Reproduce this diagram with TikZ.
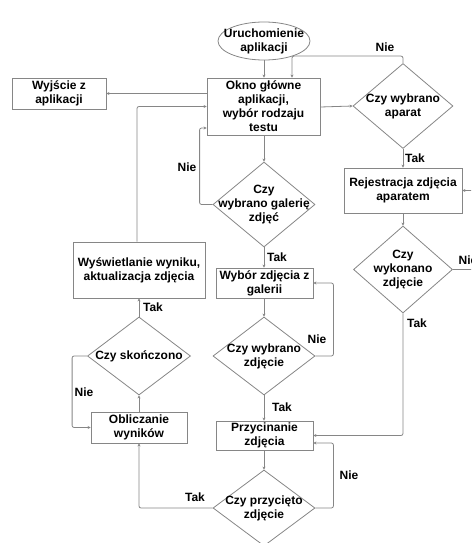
\documentclass[tikz,border=0pt]{standalone}
\usepackage{fontspec}
\setmainfont{Liberation Sans}
\usetikzlibrary{shapes.geometric, arrows.meta}

\begin{document}
\begin{tikzpicture}[x = 1pt, y = -1pt, font = \bfseries\fontsize{12}{14}\selectfont,
	line/.style = {draw = gray!95, line width = 0.8pt},
	arrow/.style = {line, rounded corners = 2pt, -{Stealth[length = 3pt, width = 3pt]}},
	box/.style = {rectangle, line, align = center, inner sep = 1pt},
	start/.style = {ellipse, line, inner sep = 0pt},
	decision/.style = {diamond, line, inner sep = 0pt},
	answer/.style = {inner sep = 0pt}]

	% Frame

	\useasboundingbox (0, 0) rectangle (471, 543);
	\clip (0, 0) rectangle (471, 543);

	% Nodes

	\node [start, minimum width = 92pt, minimum height = 38pt, label = {[align = center]center:Uruchomienie\\aplikacji}] (start) at (264, 41) {};
	\node [box, minimum width = 113pt, minimum height = 57pt] (main) at (263.5, 106.5) {Okno główne\\aplikacji,\\wybór rodzaju\\testu};
	\node [box, minimum width = 94pt, minimum height = 31pt] (exit) at (59, 93.5) {Wyjście z\\aplikacji};

	\node [decision, minimum width = 100pt, minimum height = 85pt, label = {[align = center]center:Czy wybrano\\aparat}] (camq) at (403, 106) {};
	\node [box, minimum width = 118pt, minimum height = 45pt] (camera) at (403, 190.5) {Rejestracja zdjęcia\\aparatem};
	\node [decision, minimum width = 99pt, minimum height = 87pt, label = {[align = center]center:Czy\\wykonano\\zdjęcie}] (shotq) at (403, 269.5) {};

	\node [decision, minimum width = 102pt, minimum height = 85pt, label = {[align = center]center:Czy\\wybrano galerię\\zdjęć}] (galq) at (264, 204.5) {};
	\node [box, minimum width = 97pt, minimum height = 30pt] (gallery) at (264.5, 283) {Wybór zdjęcia z\\galerii};
	\node [decision, minimum width = 102pt, minimum height = 78pt, label = {[align = center]center:Czy wybrano\\zdjęcie}] (pickq) at (264, 356) {};
	\node [box, minimum width = 97pt, minimum height = 29pt] (crop) at (264.5, 435.5) {Przycinanie\\zdjęcia};
	\node [decision, minimum width = 102pt, minimum height = 76pt, label = {[align = center]center:Czy przycięto\\zdjęcie}] (cropq) at (264, 508) {};

	\node [box, minimum width = 132pt, minimum height = 56pt] (result) at (139, 270) {Wyświetlanie wyniku,\\aktualizacja zdjęcia};
	\node [decision, minimum width = 103pt, minimum height = 78pt, label = {[align = center]center:Czy skończono}] (doneq) at (139, 356) {};
	\node [box, minimum width = 96pt, minimum height = 31pt] (calc) at (139, 427.5) {Obliczanie\\wyników};

	% Answers

	\node [answer] (camno) at (385, 47) {Nie};
	\node [answer] (camyes) at (415, 158) {Tak};
	\node [answer] (shotno) at (468, 260) {Nie};
	\node [answer] (shotyes) at (417, 323) {Tak};
	\node [answer] (galno) at (187, 167) {Nie};
	\node [answer] (galyes) at (277, 257) {Tak};
	\node [answer] (pickno) at (317, 339) {Nie};
	\node [answer] (pickyes) at (282, 407) {Tak};
	\node [answer] (cropno) at (349, 475) {Nie};
	\node [answer] (cropyes) at (195, 497) {Tak};
	\node [answer] (doneyes) at (153, 307) {Tak};
	\node [answer] (doneno) at (84, 392) {Nie};

	% Connectors

	\draw [arrow] (start.south) -- (start.south |- main.north);
	\draw [arrow] (exit.east -| main.west) -- (exit.east);
	\draw [arrow] ([yshift = -0.5pt]main.east) -- (camq.west);
	\draw [arrow] (camq.north) -- ++(0, -7) -| ([xshift = 28.5pt]main.north);
	\draw [arrow] (camq.south) -- (camq.south |- camera.north);
	\draw [arrow] (camera.south) -- (shotq.north);
	\draw [arrow] (shotq.east) -- ++(33, 0) |- (camera.east);
	\draw [arrow] (shotq.south) |- (crop.east);

	\draw [arrow] (main.south -| galq) -- (galq.north);
	\draw [arrow] (galq.west) -- ++(-13, 0) |- ([yshift = -21.5pt]main.west);
	\draw [arrow] (galq.south) -- (galq.south |- gallery.north);
	\draw [arrow] (gallery.south -| pickq) -- (pickq.north);
	\draw [arrow] (pickq.east) -- ++(18, 0) |- (gallery.east);
	\draw [arrow] (pickq.south) -- (pickq.south |- crop.north);
	\draw [arrow] (crop.south -| cropq) -- (cropq.north);
	\draw [arrow] (cropq.east) -- ++(18, 0) |- ([yshift = -7.5pt]crop.east);
	\draw [arrow] (cropq.west) -| (calc.south);

	\draw [arrow] (calc.north) -- (doneq.south);
	\draw [arrow] (doneq.north) -- (result.south);
	\draw [arrow] (doneq.west) -- ++(-15, 0) |- (calc.west);
	\draw [arrow] ([xshift = -2pt]result.north) |- (main.west);

\end{tikzpicture}
\end{document}
